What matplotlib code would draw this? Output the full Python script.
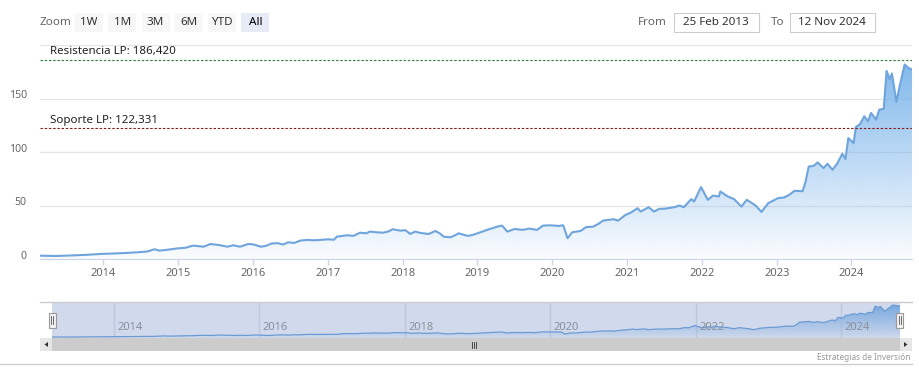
import numpy as np
import pandas as pd
import matplotlib
matplotlib.use("Agg")
import matplotlib.pyplot as plt
import matplotlib.dates as mdates
from matplotlib.patches import Rectangle
from matplotlib.colors import LinearSegmentedColormap
from matplotlib.transforms import ScaledTranslation

# ---- data ----
dates = [
    "2013-02-25", "2013-05-15", "2013-08-10", "2013-10-20", "2013-12-15",
    "2014-03-15", "2014-05-25", "2014-07-30", "2014-09-08", "2014-10-01",
    "2014-11-15", "2015-01-02", "2015-02-05", "2015-03-15", "2015-05-05",
    "2015-06-07", "2015-07-20", "2015-08-29", "2015-09-27", "2015-10-30",
    "2015-12-09", "2016-01-01", "2016-02-08", "2016-03-03", "2016-04-01",
    "2016-05-01", "2016-05-27", "2016-06-20", "2016-07-20", "2016-08-19",
    "2016-09-20", "2016-10-20", "2016-11-24", "2017-01-01", "2017-01-30",
    "2017-02-14", "2017-04-06", "2017-05-05", "2017-06-07", "2017-07-08",
    "2017-07-24", "2017-08-25", "2017-09-27", "2017-10-20", "2017-11-14",
    "2017-12-20", "2018-01-15", "2018-02-06", "2018-03-03", "2018-03-25",
    "2018-04-12", "2018-05-08", "2018-06-10", "2018-07-01", "2018-07-20",
    "2018-08-22", "2018-09-12", "2018-10-01", "2018-11-14", "2018-12-05",
    "2019-01-01", "2019-02-17", "2019-04-09", "2019-05-01", "2019-05-27",
    "2019-07-02", "2019-08-08", "2019-09-13", "2019-10-19", "2019-11-17",
    "2019-12-20", "2020-02-03", "2020-02-24", "2020-03-16", "2020-04-08",
    "2020-05-19", "2020-06-13", "2020-07-20", "2020-08-15", "2020-09-06",
    "2020-10-01", "2020-10-27", "2020-11-18", "2020-12-24", "2021-01-20",
    "2021-02-21", "2021-03-08", "2021-04-16", "2021-05-12", "2021-06-07",
    "2021-07-02", "2021-08-19", "2021-09-13", "2021-10-05", "2021-11-10",
    "2021-11-24", "2021-12-28", "2022-01-30", "2022-02-24", "2022-03-25",
    "2022-04-01", "2022-05-08", "2022-06-07", "2022-07-13", "2022-08-08",
    "2022-08-29", "2022-09-20", "2022-10-19", "2022-11-21", "2023-01-08",
    "2023-02-06", "2023-03-04", "2023-03-29", "2023-05-08", "2023-05-22",
    "2023-06-07", "2023-07-01", "2023-07-20", "2023-08-18", "2023-09-06",
    "2023-10-01", "2023-10-23", "2023-11-18", "2023-12-03", "2023-12-17",
    "2024-01-12", "2024-01-23", "2024-02-12", "2024-03-04", "2024-03-22",
    "2024-04-06", "2024-05-01", "2024-05-16", "2024-06-07", "2024-06-21",
    "2024-07-06", "2024-07-17", "2024-08-08", "2024-08-22", "2024-09-17",
    "2024-10-05", "2024-10-23",
]
values = [
    3.1, 2.8, 3.4, 4.0, 4.7,
    5.3, 6.0, 6.9, 9.1, 7.8,
    8.8, 10.0, 10.5, 12.5, 11.5,
    14.0, 13.0, 11.5, 12.8, 11.5,
    14.0, 13.7, 11.5, 12.2, 14.5,
    14.8, 13.5, 15.6, 15.0, 17.2,
    17.8, 17.5, 17.8, 18.4, 18.0,
    20.9, 22.2, 21.6, 24.6, 24.0,
    25.6, 25.0, 24.6, 25.5, 27.8,
    26.5, 26.9, 23.4, 25.6, 24.5,
    24.0, 23.4, 26.2, 24.0, 20.9,
    20.3, 22.0, 24.0, 21.6, 22.3,
    24.0, 27.2, 30.3, 31.2, 25.6,
    28.1, 27.2, 28.4, 27.2, 31.2,
    31.5, 30.9, 31.5, 19.4, 25.0,
    26.2, 29.7, 30.3, 33.0, 35.9,
    36.5, 37.2, 35.9, 41.2, 43.5,
    47.5, 44.3, 48.4, 44.3, 46.9,
    47.0, 48.4, 50.0, 48.4, 56.0,
    53.7, 67.2, 55.3, 59.3, 58.4,
    63.1, 58.4, 56.0, 49.0, 55.3,
    52.8, 50.0, 44.0, 52.2, 56.9,
    57.5, 60.0, 63.7, 63.4, 72.0,
    86.5, 87.0, 90.3, 85.0, 89.0,
    83.4, 89.0, 98.4, 93.4, 113.0,
    108.4, 123.4, 126.0, 133.4, 128.7,
    136.5, 130.3, 139.6, 140.3, 175.8,
    168.0, 173.4, 146.8, 160.0, 181.8,
    178.7, 177.0,
]
resistencia = 186.420
soporte = 122.331
y_ticks = [0, 50, 100, 150, 200]
y_labels = ["0", "50", "100", "150", ""]
zoom_buttons = ["1W", "1M", "3M", "6M", "YTD", "All"]
date_from = "25 Feb 2013"
date_to = "12 Nov 2024"
credits = "Estrategias de Inversión"

plt.rcParams["font.family"] = ["Noto Sans", "DejaVu Sans"]

W, H = 920, 382
fig = plt.figure(figsize=(W / 100, H / 100), dpi=100)


def box(l, t, r, b):
    # pixel box (from top-left) -> figure fraction rect
    return [l / W, 1 - b / H, (r - l) / W, (b - t) / H]


xn = mdates.date2num(pd.to_datetime(dates))
vals = np.array(values)
blue = (124 / 255, 181 / 255, 236 / 255)
grad_cmap = LinearSegmentedColormap.from_list(
    "grad", [(*blue, 0.04), (*blue, 0.95)])


def gradient_area(a, top):
    poly = a.fill_between(xn, vals, 0, color="none", lw=0)
    img = a.imshow(np.linspace(0, 1, 256)[:, None], extent=[xn[0], xn[-1], 0, top],
                   origin="lower", aspect="auto", cmap=grad_cmap, zorder=1,
                   interpolation="bilinear")
    img.set_clip_path(poly.get_paths()[0], transform=a.transData)


# ---- main chart ----
ax = fig.add_axes(box(40, 45, 912, 259))
gradient_area(ax, vals.max())
ax.plot(xn, vals, color="#6fa5dc", lw=1.5, zorder=3)
ax.set_xlim(xn[0], xn[-1])
ax.set_ylim(0, 200)
ax.set_facecolor("none")
for s in ["top", "right", "left"]:
    ax.spines[s].set_visible(False)
ax.spines["bottom"].set_color("#ccd6eb")
ax.set_yticks(y_ticks)
ax.set_yticklabels(y_labels)
ax.yaxis.grid(True, color="#e6e6e6", lw=1)
ax.set_axisbelow(True)
ax.tick_params(axis="y", length=0, pad=9.5, labelsize=7.6, labelcolor="#666666")
for lab in ax.get_yticklabels():
    lab.set_transform(lab.get_transform() + ScaledTranslation(0, 3 / 72, fig.dpi_scale_trans))
ax.xaxis.set_major_locator(mdates.YearLocator())
ax.xaxis.set_major_formatter(mdates.DateFormatter("%Y"))
ax.tick_params(axis="x", length=4, width=1, color="#ccd6eb", pad=2.5,
               labelsize=8.0, labelcolor="#666666")

ax.axhline(resistencia, color="#2e7d32", lw=0.8, ls=(0, (2.2, 1.6)), zorder=4)
ax.axhline(soporte, color="#8b1a1a", lw=0.8, ls=(0, (2.2, 1.6)), zorder=4)
ax.annotate(f"Resistencia LP: {resistencia:,.3f}".replace(".", ","),
            xy=(0, resistencia), xycoords=("axes fraction", "data"),
            xytext=(7.5, 1.5), textcoords="offset points", va="bottom",
            fontsize=8.3, color="#222222", annotation_clip=False)
ax.annotate(f"Soporte LP: {soporte:,.3f}".replace(".", ","),
            xy=(0, soporte), xycoords=("axes fraction", "data"),
            xytext=(7.5, 1.5), textcoords="offset points", va="bottom",
            fontsize=8.3, color="#222222", annotation_clip=False)

# ---- navigator ----
nav = fig.add_axes(box(52, 302, 900, 338))
rng = vals.max() - vals.min()
nav.set_xlim(xn[0], xn[-1])
nav.set_ylim(vals.min() - 0.03 * rng, vals.max() + 0.095 * rng)
nav.axis("off")
nav_years = pd.date_range("2014-01-01", "2024-01-01", freq="2YS")
for d in nav_years:
    xd = mdates.date2num(d)
    nav.axvline(xd, color="#e6e6e6", lw=1, zorder=0)
gradient_area(nav, vals.max())
nav.plot(xn, vals, color="#6fa5dc", lw=0.9, zorder=3)
nav.add_patch(Rectangle((0, 0), 1, 1, transform=nav.transAxes, color="#6685c2",
                        alpha=0.3, lw=0, zorder=4))
for d in nav_years:
    xd = mdates.date2num(d)
    nav.annotate(d.strftime("%Y"), xy=(xd, 0), xycoords=("data", "axes fraction"),
                 xytext=(2.5, 3.5), textcoords="offset points", fontsize=8.0,
                 color="#8a8f99", ha="left", va="bottom", zorder=5)

# ---- chrome (buttons, inputs, scrollbar) in pixel coordinates ----
ui = fig.add_axes([0, 0, 1, 1], zorder=10)
ui.set_xlim(0, W)
ui.set_ylim(H, 0)
ui.axis("off")
ui.patch.set_alpha(0)

ui.text(40, 22.5, "Zoom", fontsize=8.4, color="#666666", va="center", ha="left")
for i, b in enumerate(zoom_buttons):
    l = 75 + i * 33.3
    sel = b == "All"
    ui.add_patch(Rectangle((l, 13), 28, 19, fc="#e6ebf5" if sel else "#f7f7f7", lw=0))
    ui.text(l + 14, 22.5, b, fontsize=8.4, color="#000000" if sel else "#333333",
            fontweight="bold" if sel else "normal", ha="center", va="center")

ui.text(667, 22.5, "From", fontsize=8.4, color="#666666", ha="right", va="center")
ui.add_patch(Rectangle((674, 13), 85, 19, fc="white", ec="#cccccc", lw=0.8))
ui.text(716, 22.5, date_from, fontsize=8.4, color="#333333", ha="center", va="center")
ui.text(784, 22.5, "To", fontsize=8.4, color="#666666", ha="right", va="center")
ui.add_patch(Rectangle((790, 13), 85, 19, fc="white", ec="#cccccc", lw=0.8))
ui.text(832, 22.5, date_to, fontsize=8.4, color="#333333", ha="center", va="center")

# navigator outline and handles
ui.plot([40, 912], [302, 302], color="#cccccc", lw=1)
for hx in [52.5, 900]:
    ui.add_patch(Rectangle((hx - 3.5, 312.5), 7, 15, fc="#f2f2f2", ec="#999999", lw=0.8))
    ui.plot([hx - 1, hx - 1], [316, 324], color="#333333", lw=0.5)
    ui.plot([hx + 1, hx + 1], [316, 324], color="#333333", lw=0.5)

# scrollbar
ui.add_patch(Rectangle((40, 338), 872, 13, fc="#f2f2f2", lw=0))
ui.add_patch(Rectangle((52, 338), 848, 13, fc="#cccccc", lw=0))
ui.add_patch(Rectangle((40, 338), 12, 13, fc="#e6e6e6", lw=0))
ui.add_patch(Rectangle((900, 338), 12, 13, fc="#e6e6e6", lw=0))
ui.fill([44.5, 48, 48], [344.5, 342, 347], color="#333333", lw=0)
ui.fill([907.5, 904, 904], [344.5, 342, 347], color="#333333", lw=0)
for gx in [472.5, 474.5, 476.5]:
    ui.plot([gx, gx], [341.5, 347.5], color="#333333", lw=0.6)

ui.text(910, 357, credits, fontsize=5.9, color="#999999", ha="right", va="center")
ui.plot([0, 912], [364, 364], color="#cccccc", lw=1)

fig.savefig("out.png", dpi=100)
